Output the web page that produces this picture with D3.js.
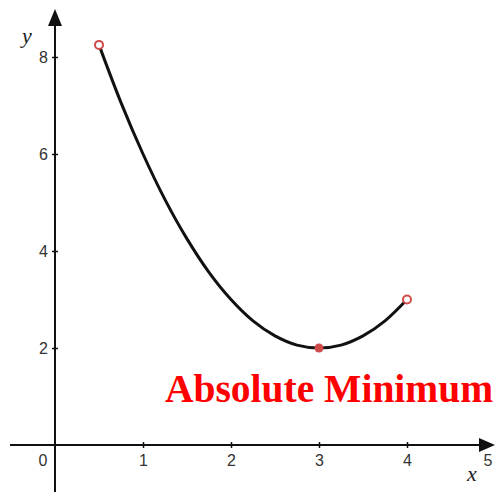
<!DOCTYPE html>
<html>
<head>
<meta charset="utf-8">
<script src="https://cdn.jsdelivr.net/npm/d3@7"></script>
<style>
  html, body { margin: 0; padding: 0; background: #fff; }
  svg { display: block; }
</style>
</head>
<body>
<svg id="chart" width="496" height="492"></svg>
<script>
// Function samples f(x) on the open interval (0.5, 4)
const xs = [0.5, 0.75, 1, 1.25, 1.5, 1.75, 2, 2.25, 2.5, 2.75, 3, 3.25, 3.5, 3.75, 4];
const ys = [8.25, 7.06, 6, 5.06, 4.25, 3.56, 3, 2.56, 2.25, 2.06, 2, 2.06, 2.25, 2.56, 3];

// Endpoints (excluded) and the minimum (included)
const openPoints = [[0.5, 8.25], [4, 3]];
const minPoint = [3, 2];

const xTicks = [1, 2, 3, 4];
const yTicks = [2, 4, 6, 8];
const labelText = "Absolute Minimum";

const svg = d3.select("#chart");
const x = d3.scaleLinear().domain([0, 5]).range([55, 495]);
const y = d3.scaleLinear().domain([0, 8]).range([445, 57]);

const axisColor = "#111";
const tickFont = "Liberation Sans, Arial, sans-serif";
const tickSize = 16;

// axis lines with arrow heads
svg.append("line")
  .attr("x1", 10).attr("x2", 480)
  .attr("y1", y(0)).attr("y2", y(0))
  .attr("stroke", axisColor).attr("stroke-width", 2);
svg.append("path")
  .attr("d", `M479,${y(0) - 7} L495,${y(0)} L479,${y(0) + 7} Z`)
  .attr("fill", axisColor);

svg.append("line")
  .attr("x1", x(0)).attr("x2", x(0))
  .attr("y1", 492).attr("y2", 24)
  .attr("stroke", axisColor).attr("stroke-width", 2);
svg.append("path")
  .attr("d", `M${x(0) - 7},26 L${x(0)},9 L${x(0) + 7},26 Z`)
  .attr("fill", axisColor);

// x axis ticks and labels
const xAxis = svg.append("g")
  .attr("transform", `translate(0,${y(0)})`)
  .call(d3.axisBottom(x).tickValues(xTicks).tickSize(3).tickFormat(d3.format("d")));
xAxis.select(".domain").remove();
xAxis.selectAll(".tick line").attr("y1", -3).attr("y2", 3)
  .attr("stroke", axisColor).attr("stroke-width", 1.5);
xAxis.selectAll(".tick text")
  .attr("y", 10).attr("dy", "0.71em")
  .attr("font-family", tickFont).attr("font-size", tickSize).attr("fill", "#333");

// y axis ticks and labels
const yAxis = svg.append("g")
  .attr("transform", `translate(${x(0)},0)`)
  .call(d3.axisLeft(y).tickValues(yTicks).tickSize(3).tickFormat(d3.format("d")));
yAxis.select(".domain").remove();
yAxis.selectAll(".tick line").attr("x1", -3).attr("x2", 3)
  .attr("stroke", axisColor).attr("stroke-width", 1.5);
yAxis.selectAll(".tick text")
  .attr("x", -7)
  .attr("font-family", tickFont).attr("font-size", tickSize).attr("fill", "#333");

// origin and last x label (no tick mark)
svg.append("text").attr("x", x(0) - 12).attr("y", y(0) + 10).attr("dy", "0.71em")
  .attr("text-anchor", "middle")
  .attr("font-family", tickFont).attr("font-size", tickSize).attr("fill", "#333").text("0");
svg.append("text").attr("x", x(5) - 7).attr("y", y(0) + 10).attr("dy", "0.71em")
  .attr("text-anchor", "middle")
  .attr("font-family", tickFont).attr("font-size", tickSize).attr("fill", "#333").text("5");

// axis names
svg.append("text").attr("x", 472).attr("y", 481)
  .attr("text-anchor", "middle")
  .attr("font-family", "Liberation Serif, Times New Roman, serif")
  .attr("font-style", "italic").attr("font-size", 22).attr("fill", "#222").text("x");
svg.append("text").attr("x", 27).attr("y", 43)
  .attr("text-anchor", "middle")
  .attr("font-family", "Liberation Serif, Times New Roman, serif")
  .attr("font-style", "italic").attr("font-size", 22).attr("fill", "#222").text("y");

// curve
const pts = xs.map((d, i) => [d, ys[i]]);
const line = d3.line().x(d => x(d[0])).y(d => y(d[1])).curve(d3.curveCatmullRom.alpha(0.5));
svg.append("path")
  .attr("d", line(pts))
  .attr("fill", "none").attr("stroke", "#111").attr("stroke-width", 3)
  .attr("stroke-linecap", "round");

// endpoints (open) and minimum (filled)
const ptColor = "#d04a4a";
svg.selectAll("circle.open").data(openPoints).enter().append("circle")
  .attr("class", "open")
  .attr("cx", d => x(d[0])).attr("cy", d => y(d[1])).attr("r", 4)
  .attr("fill", "#fff").attr("stroke", ptColor).attr("stroke-width", 2);
svg.append("circle")
  .attr("cx", x(minPoint[0])).attr("cy", y(minPoint[1])).attr("r", 4.5)
  .attr("fill", ptColor);

// label
svg.append("text")
  .attr("x", 165).attr("y", 402)
  .attr("font-family", "Liberation Serif, Times New Roman, serif")
  .attr("font-weight", "bold").attr("font-size", 39.5)
  .attr("fill", "#ff0000")
  .text(labelText);
</script>
</body>
</html>
